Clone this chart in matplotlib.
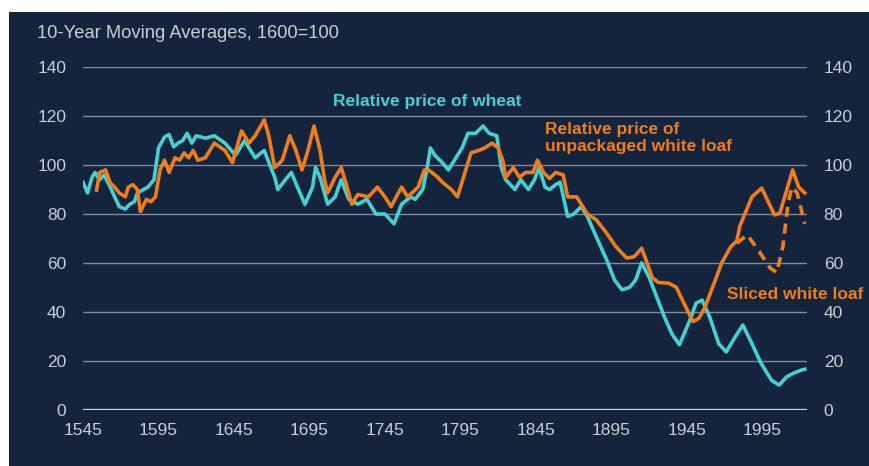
import matplotlib
matplotlib.use("Agg")
import matplotlib.pyplot as plt
from matplotlib.patches import Rectangle

# Datos (medias moviles de 10 anos, 1600=100)
wheat_years = [1545, 1548, 1551, 1553, 1556, 1559, 1563, 1566, 1569, 1573, 1576, 1579,
               1581, 1585, 1588, 1592, 1595, 1599, 1602, 1605, 1608, 1611, 1614, 1617,
               1620, 1626, 1632, 1639, 1646, 1652, 1659, 1665, 1672, 1674, 1679, 1683,
               1687, 1692, 1697, 1699, 1702, 1707, 1712, 1716, 1721, 1727, 1733, 1739,
               1745, 1751, 1756, 1762, 1765, 1770, 1773, 1775, 1778, 1783, 1787, 1791,
               1796, 1800, 1805, 1810, 1814, 1819, 1822, 1825, 1831, 1835, 1840, 1844,
               1847, 1851, 1854, 1858, 1861, 1866, 1870, 1875, 1879, 1885, 1892, 1897,
               1902, 1907, 1911, 1915, 1920, 1925, 1930, 1935, 1940, 1947, 1951, 1955,
               1960, 1966, 1971, 1977, 1982, 1988, 1994, 2001, 2006, 2011, 2016, 2021, 2023]
wheat = [93, 88.6, 95, 97, 94, 96, 91, 87, 83, 82, 84, 85,
         88.5, 90, 91, 94, 107, 111.5, 112.5, 107.5, 109, 110, 113, 109,
         112, 111, 112, 109, 104, 110, 103, 106, 95, 90, 94, 97,
         91, 84, 91, 99, 95, 84, 87, 94, 86, 84, 86, 80,
         80, 76, 84, 87, 86, 90, 99, 107, 104, 101, 98, 102,
         107, 113, 113, 116, 113, 112, 99, 94, 90, 94, 90, 94,
         99, 91, 90, 92, 93, 79, 80, 83, 79, 70.6, 61, 53,
         49, 50, 53, 60, 54, 46, 38, 31, 26.5, 36.7, 43.5, 44.8,
         38, 27, 23.6, 29.8, 34.6, 27, 19, 12, 10, 13.4, 15, 16.2, 16.5]

loaf_years = [1554, 1556, 1560, 1563, 1566, 1569, 1573, 1575, 1578, 1581, 1583, 1587,
              1590, 1593, 1596, 1599, 1602, 1606, 1609, 1612, 1615, 1618, 1621, 1626,
              1632, 1639, 1644, 1650, 1655, 1659, 1665, 1668, 1672, 1677, 1682, 1686,
              1690, 1694, 1698, 1702, 1705, 1707, 1712, 1716, 1719, 1723, 1727, 1734,
              1740, 1745, 1749, 1756, 1760, 1767, 1771, 1774, 1780, 1783, 1789, 1793,
              1798, 1802, 1807, 1811, 1816, 1820, 1823, 1825, 1830, 1834, 1838, 1843,
              1846, 1850, 1854, 1858, 1863, 1866, 1872, 1879, 1885, 1892, 1898, 1905,
              1910, 1915, 1918, 1922, 1926, 1933, 1938, 1943, 1949, 1953, 1957, 1963,
              1968, 1974, 1978, 1980, 1988, 1994.5, 2003, 2006.5, 2015, 2019, 2023]
loaf = [89.8, 97, 98, 92.7, 91, 88.6, 87, 91, 92, 90, 81, 86,
        85, 87, 98, 102, 97, 103, 102, 105, 103, 106, 102, 103,
        109, 106, 101, 114, 109, 112, 118.5, 112, 99, 102, 112, 106,
        98, 106, 116, 106, 94, 88.6, 95, 99, 93, 84, 88, 87,
        91, 87, 83, 91, 87, 91, 98, 98, 95, 93, 90, 87,
        97, 105, 106, 107, 109, 107, 102, 95, 99, 95, 97, 97,
        102, 97, 94.5, 97, 96, 87, 87, 80, 77.6, 72, 66.6, 62,
        62.5, 66, 61, 54, 52, 51.7, 50, 43.5, 36, 37.4, 42, 51.7,
        60, 66.6, 69, 75, 87, 90.6, 79.6, 80.3, 98, 91, 88.6]

sliced_years = [1978, 1985, 1993, 2000, 2004.5, 2008.5, 2012, 2014.5, 2018, 2023]
sliced = [68, 71.5, 64.5, 58, 56, 66.6, 84.5, 91, 88.6, 76]

xticks = [1545, 1595, 1645, 1695, 1745, 1795, 1845, 1895, 1945, 1995]
yticks = [0, 20, 40, 60, 80, 100, 120, 140]

fondo = "#14243c"
cian = "#45d0d3"
naranja = "#ee7d1c"
gris = "#c9ced6"

plt.rcParams["font.family"] = ["Liberation Sans", "DejaVu Sans"]

fig = plt.figure(figsize=(8.69, 4.66), dpi=100, facecolor="white")
fondo_rect = Rectangle((9 / 869, 0), 1, 1 - 12 / 466, transform=fig.transFigure,
                       facecolor=fondo, edgecolor="none", zorder=-10)
fig.add_artist(fondo_rect)

ax = fig.add_axes([83 / 869, 1 - 409.6 / 466, (807 - 83) / 869, (409.6 - 67.3) / 466])
ax.set_facecolor("none")
ax.set_zorder(1)

for y in yticks[1:]:
    ax.axhline(y, color="#7f8a9c", lw=1.0, zorder=1)
ax.axhline(0, color="#d6dbe2", lw=1.6, zorder=1)

ax.plot(wheat_years, wheat, color=cian, lw=2.6, zorder=3, solid_joinstyle="round")
ax.plot(loaf_years, loaf, color=naranja, lw=2.6, zorder=4, solid_joinstyle="round")
ax.plot(sliced_years, sliced, color=naranja, lw=2.6, zorder=4, dashes=(2.8, 1.9))

ax.set_xlim(1545, 2024.5)
ax.set_ylim(0, 140)
ax.set_xticks(xticks)
ax.set_yticks(yticks)
ax.tick_params(length=0, colors=gris, labelsize=12.5)
ax.tick_params(axis="x", pad=10)
ax.tick_params(axis="y", pad=12, labelright=True)
for s in ax.spines.values():
    s.set_visible(False)

ax.text(1773, 126, "Relative price of wheat", color=cian, fontsize=12.5,
        fontweight="bold", ha="center", va="center")
ax.text(1851, 117.5, "Relative price of\nunpackaged white loaf", color=naranja,
        fontsize=12.5, fontweight="bold", ha="left", va="top", linespacing=1.1)
ax.text(1971.5, 47, "Sliced white loaf", color=naranja, fontsize=12.5,
        fontweight="bold", ha="left", va="center", clip_on=False)

fig.text(37 / 869, 1 - 34 / 466, "10-Year Moving Averages, 1600=100", color=gris,
         fontsize=13.2, ha="left", va="center")

fig.savefig("out.png", dpi=100, facecolor="white")
